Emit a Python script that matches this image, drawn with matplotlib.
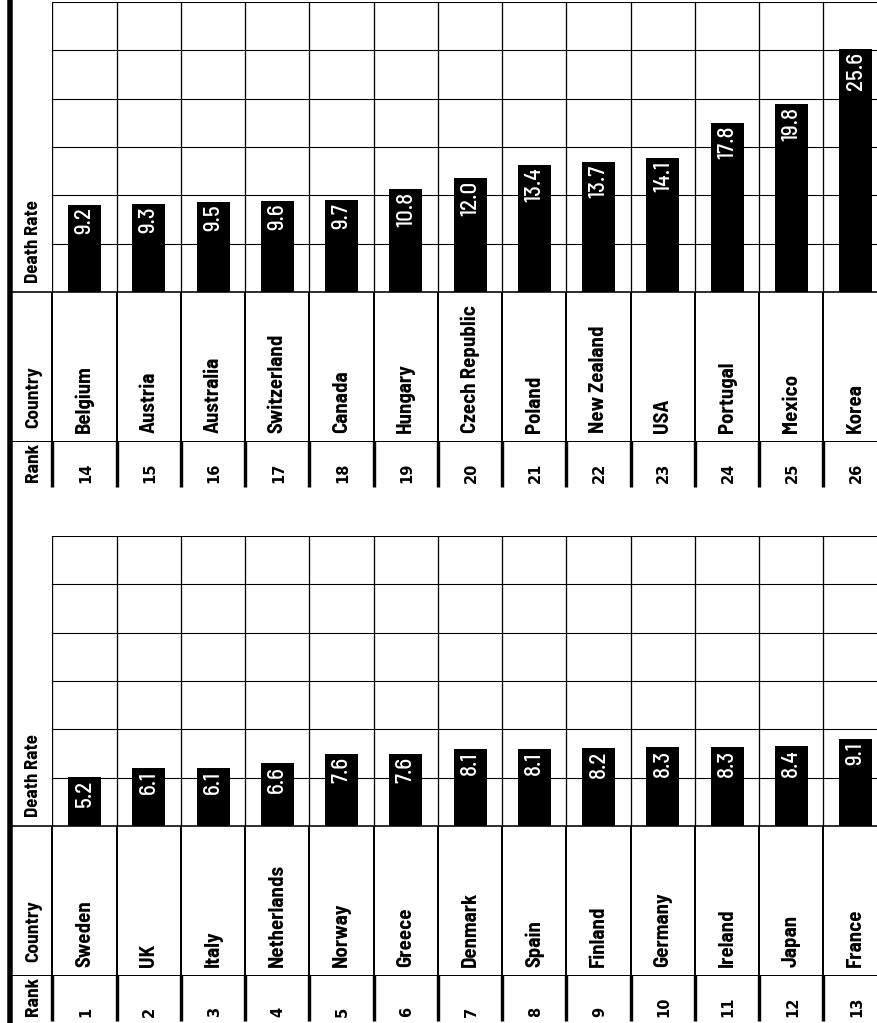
import matplotlib
matplotlib.use("Agg")
import matplotlib.pyplot as plt

# OECD death rates, ranked lowest to highest, split into two panels of 13
ranks_low = [1, 2, 3, 4, 5, 6, 7, 8, 9, 10, 11, 12, 13]
countries_low = ["Sweden", "UK", "Italy", "Netherlands", "Norway", "Greece",
                 "Denmark", "Spain", "Finland", "Germany", "Ireland", "Japan",
                 "France"]
rates_low = [5.2, 6.1, 6.1, 6.6, 7.6, 7.6, 8.1, 8.1, 8.2, 8.3, 8.3, 8.4, 9.1]

ranks_high = [14, 15, 16, 17, 18, 19, 20, 21, 22, 23, 24, 25, 26]
countries_high = ["Belgium", "Austria", "Australia", "Switzerland", "Canada",
                  "Hungary", "Czech Republic", "Poland", "New Zealand", "USA",
                  "Portugal", "Mexico", "Korea"]
rates_high = [9.2, 9.3, 9.5, 9.6, 9.7, 10.8, 12.0, 13.4, 13.7, 14.1, 17.8,
              19.8, 25.6]

headers = ["Rank", "Country", "Death Rate"]

# layout in pixels
W, H = 878, 1023
COL0, COLW = 52.5, 64.25
YMAX = 30.5
COND = ["Barlow Semi Condensed", "Barlow Condensed", "DejaVu Sans"]
PX = 0.72  # points per pixel at dpi 100


def px_rect(x0, y0, x1, y1):
    return [x0 / W, 1 - y1 / H, (x1 - x0) / W, (y1 - y0) / H]


fig = plt.figure(figsize=(W / 100, H / 100), dpi=100)
fig.patch.set_facecolor("white")

# overlay in pixel coordinates for the table part
ov = fig.add_axes([0, 0, 1, 1], zorder=5)
ov.set_xlim(0, W)
ov.set_ylim(H, 0)
ov.axis("off")
ov.patch.set_alpha(0)

# thick rule down the left edge
ov.plot([10, 10], [0, H], color="black", lw=5.5 * PX, solid_capstyle="butt")


def draw_panel(dy, ranks, countries, rates):
    top, base, split, bottom = 2 + dy, 292 + dy, 441 + dy, 487 + dy
    n = len(countries)

    ax = fig.add_axes(px_rect(COL0, top, COL0 + n * COLW, base), zorder=2)
    ax.set_xlim(-0.5, n - 0.5)
    ax.set_ylim(0, YMAX)
    ax.bar(range(n), rates, width=0.51, color="black", zorder=3)
    for i, v in enumerate(rates):
        ax.annotate(f"{v:.1f}", (i, v), xytext=(0, -3), textcoords="offset pixels",
                    rotation=90, ha="center", va="top", color="white",
                    fontsize=16.5, fontweight="medium", family=COND, zorder=4)
    # grid: six bands up the value axis, one cell per country
    for k in range(7):
        ax.axhline(YMAX * k / 6, color="black", lw=1.1 * PX, zorder=1)
    for k in range(n + 1):
        ax.axvline(k - 0.5, color="black", lw=1.3 * PX, zorder=1)
    for s in ax.spines.values():
        s.set_visible(False)
    ax.set_xticks([])
    ax.set_yticks([])

    # horizontal rules through the header column
    ov.plot([10, W], [base, base], color="black", lw=1.6 * PX)
    ov.plot([10, W], [split, split], color="black", lw=1.0 * PX)

    # headers
    ov.text(34, bottom - 5, headers[0], rotation=90, ha="center", va="bottom",
            fontsize=14, fontweight="bold", family=COND)
    ov.text(34, split - 13, headers[1], rotation=90, ha="center", va="bottom",
            fontsize=14, fontweight="bold", family=COND)
    ov.text(34, base - 9, headers[2], rotation=90, ha="center", va="bottom",
            fontsize=13.5, fontweight="bold", family=COND)

    for i in range(n + 1):
        x = COL0 + i * COLW
        ov.plot([x, x], [base, split], color="black", lw=2.0 * PX,
                solid_capstyle="butt")
        ov.plot([x, x], [split, bottom], color="black", lw=3.4 * PX,
                solid_capstyle="butt")

    for i, (r, c) in enumerate(zip(ranks, countries)):
        xc = COL0 + (i + 0.5) * COLW
        ov.text(xc, split - 8, c, rotation=90, ha="center", va="bottom",
                fontsize=15, fontweight="bold", family=COND)
        ov.text(xc + 1, bottom - 4, str(r), rotation=90, ha="center",
                va="bottom", fontsize=10.5, fontweight="bold",
                family="DejaVu Sans")


draw_panel(0, ranks_high, countries_high, rates_high)
draw_panel(534, ranks_low, countries_low, rates_low)

fig.savefig("out.png", dpi=100, facecolor="white")
